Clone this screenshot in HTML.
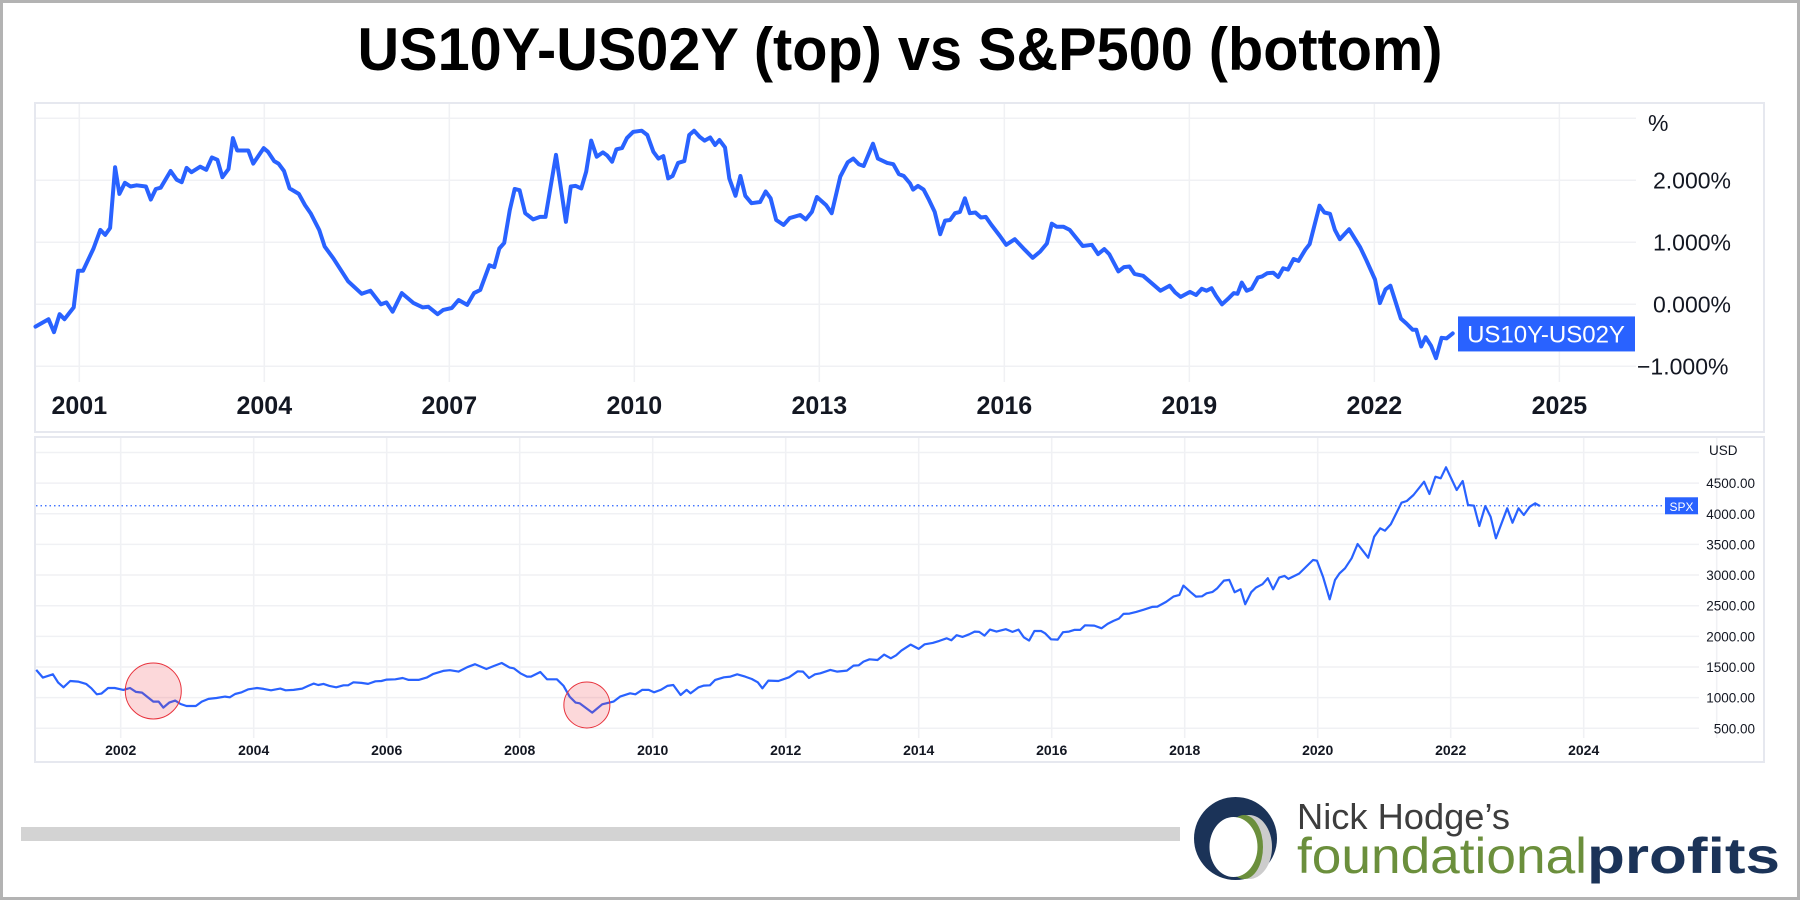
<!DOCTYPE html>
<html><head><meta charset="utf-8"><style>
html,body{margin:0;padding:0;background:#fff;}
svg{display:block;}
text{font-family:"Liberation Sans",sans-serif;}
</style></head><body>
<svg id="root" width="1800" height="900" viewBox="0 0 1800 900" xmlns="http://www.w3.org/2000/svg">
<rect x="1.5" y="1.5" width="1797" height="897" fill="#fff" stroke="#b3b3b3" stroke-width="3"/>
<text x="900" y="70" text-anchor="middle" font-size="60" font-weight="bold" fill="#000" textLength="1085" lengthAdjust="spacingAndGlyphs">US10Y-US02Y (top) vs S&amp;P500 (bottom)</text>
<rect x="35" y="103" width="1729" height="329" fill="#fff" stroke="#e6e8ef" stroke-width="2"/>
<rect x="35" y="437" width="1729" height="325" fill="#fff" stroke="#e6e8ef" stroke-width="2"/>
<g id="topchart"></g>
<g id="botchart"></g>
<g>
<rect x="21" y="827" width="1159" height="14" fill="#d3d3d3"/>
<circle cx="1235.5" cy="838.5" r="41.5" fill="#1b3358"/>
<ellipse cx="1249" cy="847" rx="23" ry="32" fill="#cccccc"/>
<ellipse cx="1244" cy="847" rx="19" ry="32" fill="#6b8f3c"/>
<ellipse cx="1233.5" cy="847" rx="24" ry="30" fill="#fff"/>
<text x="1297" y="829" font-size="36" fill="#3d3d3d" textLength="213" lengthAdjust="spacingAndGlyphs">Nick Hodge’s</text>
<text x="1297" y="873" font-size="50" fill="#6b8f3c" textLength="290" lengthAdjust="spacingAndGlyphs">foundational</text>
<text x="1587" y="873" font-size="50" font-weight="bold" fill="#1b3358" textLength="193" lengthAdjust="spacingAndGlyphs">profits</text>
</g>
</svg>
<script>
const spreadDates=[2000.29,2000.50,2000.59,2000.68,2000.76,2000.91,2000.98,2001.06,2001.23,2001.34,2001.42,2001.50,2001.58,2001.65,2001.74,2001.83,2001.93,2002.08,2002.16,2002.24,2002.32,2002.48,2002.58,2002.66,2002.74,2002.82,2002.96,2003.06,2003.15,2003.24,2003.32,2003.42,2003.49,2003.56,2003.74,2003.82,2003.99,2004.06,2004.16,2004.23,2004.32,2004.41,2004.56,2004.66,2004.75,2004.89,2004.98,2005.12,2005.36,2005.58,2005.72,2005.89,2005.98,2006.08,2006.23,2006.42,2006.57,2006.66,2006.81,2006.90,2007.04,2007.15,2007.29,2007.40,2007.50,2007.65,2007.73,2007.81,2007.89,2007.98,2008.06,2008.14,2008.23,2008.36,2008.47,2008.56,2008.73,2008.89,2008.97,2009.05,2009.14,2009.22,2009.30,2009.39,2009.49,2009.56,2009.64,2009.71,2009.80,2009.88,2009.98,2010.12,2010.21,2010.31,2010.39,2010.47,2010.55,2010.62,2010.71,2010.81,2010.89,2010.97,2011.06,2011.14,2011.23,2011.31,2011.38,2011.47,2011.54,2011.64,2011.72,2011.80,2011.90,2012.04,2012.13,2012.21,2012.30,2012.42,2012.52,2012.69,2012.78,2012.88,2012.96,2013.11,2013.20,2013.34,2013.46,2013.55,2013.64,2013.72,2013.87,2013.95,2014.10,2014.20,2014.29,2014.37,2014.47,2014.52,2014.60,2014.69,2014.78,2014.87,2014.96,2015.04,2015.12,2015.20,2015.28,2015.36,2015.44,2015.53,2015.62,2015.70,2015.79,2015.93,2016.03,2016.17,2016.33,2016.46,2016.58,2016.69,2016.77,2016.85,2016.96,2017.06,2017.27,2017.42,2017.52,2017.62,2017.70,2017.85,2017.94,2018.03,2018.11,2018.25,2018.39,2018.53,2018.68,2018.77,2018.86,2019.01,2019.11,2019.20,2019.28,2019.36,2019.43,2019.53,2019.64,2019.72,2019.78,2019.85,2019.93,2020.01,2020.11,2020.18,2020.26,2020.36,2020.44,2020.52,2020.60,2020.69,2020.77,2020.88,2020.95,2021.11,2021.19,2021.28,2021.36,2021.44,2021.59,2021.77,2021.87,2022.01,2022.09,2022.18,2022.26,2022.43,2022.52,2022.62,2022.68,2022.76,2022.83,2022.92,2023.00,2023.09,2023.17,2023.27];
const spreadValues=[-0.36,-0.24,-0.45,-0.16,-0.24,-0.05,0.54,0.54,0.90,1.20,1.12,1.23,2.21,1.78,1.96,1.90,1.92,1.90,1.69,1.86,1.88,2.15,2.01,1.97,2.20,2.13,2.22,2.17,2.37,2.33,2.05,2.18,2.68,2.48,2.48,2.27,2.52,2.46,2.31,2.27,2.15,1.87,1.78,1.60,1.47,1.20,0.93,0.74,0.37,0.17,0.22,0.00,0.03,-0.12,0.18,0.02,-0.05,-0.04,-0.16,-0.09,-0.06,0.07,-0.01,0.18,0.23,0.63,0.60,0.90,0.99,1.52,1.86,1.84,1.47,1.37,1.41,1.41,2.41,1.33,1.90,1.91,1.87,2.14,2.64,2.38,2.45,2.40,2.30,2.50,2.52,2.68,2.78,2.80,2.73,2.46,2.35,2.39,2.03,2.07,2.28,2.31,2.73,2.80,2.70,2.64,2.69,2.57,2.65,2.53,2.03,1.75,2.07,1.75,1.63,1.65,1.82,1.71,1.36,1.28,1.39,1.44,1.37,1.49,1.73,1.60,1.47,2.06,2.29,2.35,2.26,2.23,2.59,2.35,2.28,2.26,2.10,2.07,1.95,1.85,1.91,1.85,1.68,1.49,1.13,1.35,1.36,1.47,1.49,1.71,1.47,1.48,1.40,1.41,1.28,1.10,0.96,1.05,0.88,0.75,0.85,0.98,1.30,1.25,1.25,1.20,0.94,0.96,0.81,0.89,0.81,0.53,0.60,0.61,0.49,0.46,0.34,0.22,0.30,0.19,0.12,0.20,0.15,0.25,0.22,0.26,0.14,0.00,0.10,0.18,0.17,0.35,0.22,0.25,0.43,0.45,0.50,0.51,0.44,0.58,0.56,0.73,0.70,0.88,0.97,1.59,1.48,1.46,1.20,1.05,1.21,0.92,0.71,0.40,0.02,0.24,0.30,-0.23,-0.31,-0.41,-0.41,-0.68,-0.53,-0.67,-0.87,-0.54,-0.55,-0.47];
const spreadTicks=[2,1,0,-1];
const spreadTickLabels=["2.000%","1.000%","0.000%","−1.000%"];
const spreadYears=[2001,2004,2007,2010,2013,2016,2019,2022,2025];

const spxDates=[2000.73,2000.83,2000.98,2001.06,2001.14,2001.24,2001.36,2001.48,2001.56,2001.64,2001.71,2001.81,2001.91,2002.04,2002.14,2002.23,2002.32,2002.49,2002.57,2002.64,2002.73,2002.82,2002.90,2002.99,2003.13,2003.22,2003.32,2003.44,2003.57,2003.64,2003.72,2003.82,2003.92,2004.05,2004.15,2004.26,2004.40,2004.48,2004.60,2004.73,2004.82,2004.90,2004.97,2005.05,2005.14,2005.24,2005.35,2005.42,2005.50,2005.62,2005.72,2005.83,2005.92,2006.00,2006.13,2006.24,2006.33,2006.48,2006.60,2006.70,2006.85,2006.95,2007.08,2007.21,2007.33,2007.50,2007.61,2007.73,2007.85,2007.91,2008.01,2008.11,2008.17,2008.31,2008.41,2008.56,2008.66,2008.75,2008.84,2008.90,2009.09,2009.24,2009.41,2009.51,2009.66,2009.74,2009.84,2009.94,2010.02,2010.12,2010.22,2010.31,2010.42,2010.51,2010.57,2010.69,2010.77,2010.86,2010.94,2011.07,2011.17,2011.27,2011.39,2011.49,2011.58,2011.65,2011.74,2011.89,2012.05,2012.18,2012.26,2012.35,2012.44,2012.52,2012.67,2012.77,2012.92,2013.02,2013.10,2013.17,2013.26,2013.38,2013.48,2013.58,2013.66,2013.74,2013.88,2014.00,2014.09,2014.21,2014.31,2014.42,2014.49,2014.57,2014.66,2014.76,2014.84,2014.91,2014.99,2015.07,2015.17,2015.31,2015.41,2015.50,2015.58,2015.66,2015.74,2015.84,2015.90,2015.99,2016.09,2016.17,2016.26,2016.34,2016.43,2016.50,2016.64,2016.75,2016.84,2016.93,2017.01,2017.08,2017.17,2017.27,2017.39,2017.51,2017.59,2017.72,2017.83,2017.92,2017.98,2018.09,2018.17,2018.26,2018.33,2018.42,2018.49,2018.59,2018.67,2018.75,2018.84,2018.91,2019.00,2019.07,2019.17,2019.25,2019.33,2019.42,2019.50,2019.56,2019.72,2019.93,2019.99,2020.08,2020.18,2020.26,2020.33,2020.41,2020.51,2020.60,2020.76,2020.85,2020.94,2021.01,2021.10,2021.26,2021.34,2021.44,2021.60,2021.68,2021.77,2021.85,2021.93,2022.09,2022.18,2022.26,2022.35,2022.43,2022.52,2022.60,2022.68,2022.85,2022.93,2023.02,2023.10,2023.19,2023.27,2023.34];
const spxValues=[1452,1327,1381,1245,1169,1272,1262,1224,1153,1055,1066,1158,1158,1126,1158,1093,1082,935,935,837,919,952,897,864,864,935,979,995,1017,1006,1060,1088,1136,1158,1142,1120,1147,1120,1126,1147,1191,1229,1207,1224,1191,1169,1202,1202,1251,1240,1224,1267,1272,1294,1300,1321,1289,1289,1327,1387,1436,1447,1425,1496,1545,1468,1517,1566,1490,1479,1398,1343,1343,1419,1300,1300,1191,1017,919,908,756,892,935,1017,1071,1055,1126,1126,1088,1126,1191,1207,1044,1126,1071,1169,1196,1202,1289,1332,1343,1381,1343,1305,1251,1153,1278,1272,1332,1430,1425,1321,1381,1398,1452,1425,1441,1523,1528,1588,1626,1615,1702,1642,1691,1768,1865,1795,1871,1893,1925,1969,1936,2018,1991,2034,2078,2072,2012,2110,2078,2116,2072,2110,1985,1931,2088,2088,2050,1952,1947,2067,2078,2105,2105,2181,2176,2132,2203,2252,2290,2366,2371,2399,2437,2480,2486,2562,2649,2676,2828,2720,2649,2654,2703,2725,2785,2910,2921,2720,2768,2524,2720,2796,2850,2948,2768,2959,2986,2937,3024,3245,3234,2973,2604,2919,3028,3110,3273,3506,3283,3626,3763,3724,3828,4180,4208,4306,4523,4322,4604,4578,4758,4387,4534,4143,4131,3800,4126,3952,3600,4089,3854,4089,3980,4115,4170,4126];
const spxTicks=[4500,4000,3500,3000,2500,2000,1500,1000,500];
const spxTickLabels=["4500.00","4000.00","3500.00","3000.00","2500.00","2000.00","1500.00","1000.00","500.00"];
const spxYears=[2002,2004,2006,2008,2010,2012,2014,2016,2018,2020,2022,2024];
const spxLast=[4130];
const highlightDates=[2002.49,2009.01];
const highlightValues=[1109,881];

const NS="http://www.w3.org/2000/svg";
function mk(parent,tag,attrs,txt){const e=document.createElementNS(NS,tag);for(const k in attrs)e.setAttribute(k,attrs[k]);if(txt!==undefined)e.textContent=txt;parent.appendChild(e);return e;}

const tx=y=>79.3+(y-2001)*61.67;
const ty=v=>304.3-v*62;
const topG=document.getElementById('topchart');
for(const v of [3,2,1,0,-1]){
  const l=mk(topG,'line',{x1:36,x2:1636,y1:ty(v),y2:ty(v),stroke:'#f0f1f4','stroke-width':1.5});
  
  
}
spreadYears.forEach(y=>{
  const l=mk(topG,'line',{x1:tx(y),x2:tx(y),y1:104,y2:382,stroke:'#f0f1f4','stroke-width':1.5});
  
  
  const t=mk(topG,'text',{x:tx(y),y:414,'text-anchor':'middle','font-size':25,'font-weight':'bold',fill:'#131722'},String(y));
  
  
});
spreadTicks.forEach((v,i)=>{
  const t=mk(topG,'text',{x:v<0?1637:1653,y:ty(v)+8,'font-size':23,fill:'#131722'},spreadTickLabels[i]);
  
  
});
const pct=mk(topG,'text',{x:1648,y:131,'font-size':23,fill:'#131722'},'%');


let d='';
spreadDates.forEach((y,i)=>{d+=(i?'L':'M')+tx(y).toFixed(1)+' '+ty(spreadValues[i]).toFixed(1);});
const sp=mk(topG,'path',{d:d,fill:'none',stroke:'#2962ff','stroke-width':4,'stroke-linejoin':'round','stroke-linecap':'round'});


const lastS=spreadValues[spreadValues.length-1];
const lb=mk(topG,'rect',{x:1458,y:ty(lastS)-17,width:177,height:35,fill:'#2962ff'});


const lbt=mk(topG,'text',{x:1546,y:ty(lastS)+9,'text-anchor':'middle','font-size':24,fill:'#fff'},'US10Y-US02Y');



const bx=y=>120.7+(y-2002)*66.5;
const by=v=>728.3-(v-500)*0.0613;
const botG=document.getElementById('botchart');
for(const v of [5000].concat(spxTicks)){
  const l=mk(botG,'line',{x1:36,x2:1699,y1:by(v),y2:by(v),stroke:'#f0f1f4','stroke-width':1.5});
  
  
}
spxYears.concat([2026]).forEach(y=>{
  const l=mk(botG,'line',{x1:bx(y),x2:bx(y),y1:438,y2:738,stroke:'#f0f1f4','stroke-width':1.5});
  
  
});
spxYears.forEach(y=>{
  const t=mk(botG,'text',{x:bx(y),y:755,'text-anchor':'middle','font-size':14,'font-weight':'bold',fill:'#131722'},String(y));
  
  
});
spxTicks.forEach((v,i)=>{
  const t=mk(botG,'text',{x:1755,y:by(v)+5,'text-anchor':'end','font-size':13.5,fill:'#131722'},spxTickLabels[i]);
  
  
});
const usd=mk(botG,'text',{x:1709,y:455,'font-size':13.5,fill:'#131722'},'USD');


const dl=mk(botG,'line',{x1:36,x2:1665,y1:by(spxLast[0]),y2:by(spxLast[0]),stroke:'#2962ff','stroke-width':1.2,'stroke-dasharray':'1.5 3'});


const sb=mk(botG,'rect',{x:1665,y:by(spxLast[0])-8.5,width:33,height:17,fill:'#2962ff'});


const sbt=mk(botG,'text',{x:1681.5,y:by(spxLast[0])+5,'text-anchor':'middle','font-size':12,fill:'#fff'},'SPX');


let d2='';
spxDates.forEach((y,i)=>{d2+=(i?'L':'M')+bx(y).toFixed(1)+' '+by(spxValues[i]).toFixed(1);});
const sx=mk(botG,'path',{d:d2,fill:'none',stroke:'#2962ff','stroke-width':2.2,'stroke-linejoin':'round'});


const radii=[28,23];
highlightDates.forEach((y,i)=>{
  const c=mk(botG,'circle',{cx:bx(y),cy:by(highlightValues[i]),r:radii[i],fill:'rgba(240,60,70,0.2)',stroke:'#e8323c','stroke-width':1});
  
  
});
</script>
</body></html>
